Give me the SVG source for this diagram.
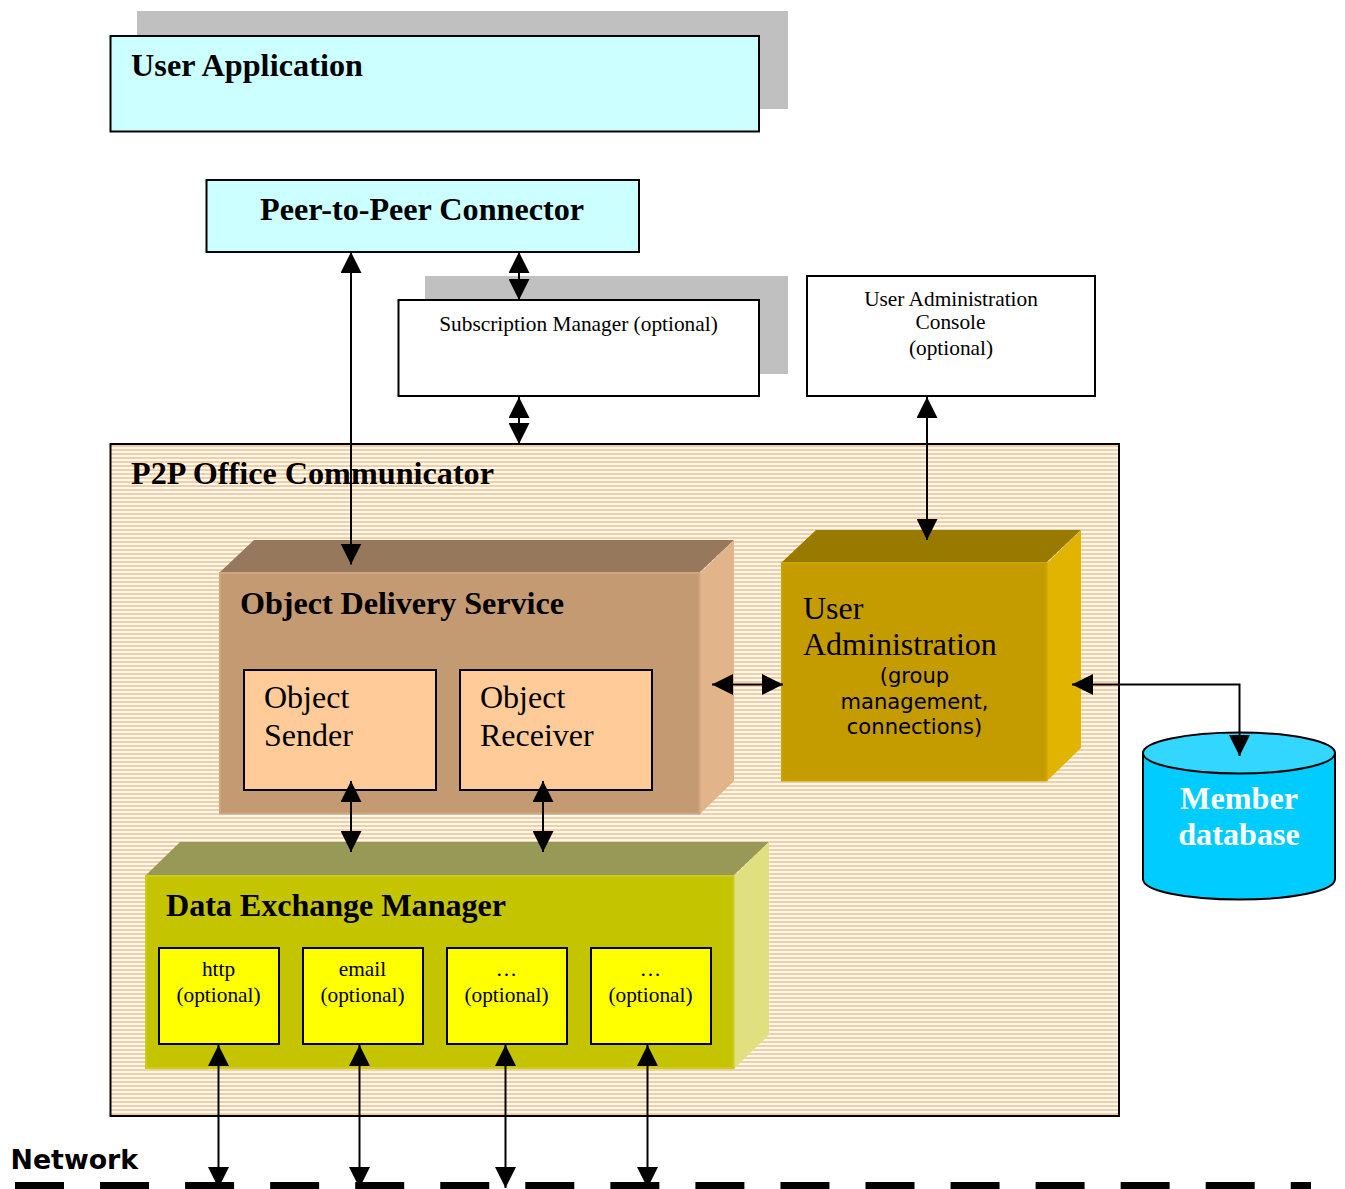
<svg xmlns="http://www.w3.org/2000/svg" width="1345" height="1189" viewBox="0 0 1345 1189">
<style>
.s{font-family:"Liberation Serif","Times New Roman",serif;fill:#000}
.b{font-weight:bold;font-size:32.200px}
.r32{font-size:32px}
.r21{font-size:21.350px}
.d{font-family:"DejaVu Sans",sans-serif;font-size:21.100px;fill:#000}
.box{stroke:#000;stroke-width:2}
.c{stroke:#000;stroke-width:2;fill:none;marker-start:url(#a);marker-end:url(#a)}
.m{text-anchor:middle}
</style>
<defs>
<marker id="a" markerUnits="userSpaceOnUse" markerWidth="21" markerHeight="21" refX="21" refY="10.500" orient="auto-start-reverse" viewBox="0 0 21 21"><path d="M0 0L21 10.500L0 21Z" fill="#000"/></marker>
<pattern id="st" patternUnits="userSpaceOnUse" width="8" height="4" x="0" y="445"><rect width="8" height="4" fill="#fff"/><rect width="8" height="2" fill="#ffcc99"/></pattern>
</defs>
<g id="user-application"><rect x="137" y="11" width="651" height="98" fill="#c0c0c0"/><rect class="box" x="110.500" y="36" width="648.500" height="95.500" fill="#ccffff"/><text class="s b" x="131" y="76" textLength="232">User Application</text></g>
<g id="p2p-connector"><rect class="box" x="206.500" y="180" width="432.500" height="72" fill="#ccffff"/><text class="s b" x="260" y="220" textLength="324">Peer-to-Peer Connector</text></g>
<g id="subscription-manager"><rect x="425" y="276" width="363" height="98" fill="#c0c0c0"/><rect class="box" x="398.500" y="300" width="360.500" height="96" fill="#fff"/><text class="s r21 m" x="578.500" y="331">Subscription Manager (optional)</text></g>
<g id="admin-console"><rect class="box" x="807" y="276" width="288" height="120" fill="#fff"/><text class="s r21 m" x="951" y="306">User Administration</text><text class="s r21 m" x="950.500" y="329">Console</text><text class="s r21 m" x="951" y="355">(optional)</text></g>
<g id="p2p-office"><rect class="box" x="110.500" y="444" width="1008.500" height="672" fill="url(#st)"/><text class="s b" x="131" y="484" textLength="363">P2P Office Communicator</text></g>
<g id="object-delivery"><path d="M220 572L254 540H734L700 572Z" fill="#96795c"/><path d="M700 573L734 540V781L700 814Z" fill="#e1b489"/><rect x="220" y="573" width="479.500" height="240.500" fill="#c49a73" stroke="#cfa67f" stroke-width="2"/><text class="s b" x="240" y="614" textLength="324">Object Delivery Service</text></g>
<g id="object-sender"><rect class="box" x="244" y="670" width="192" height="120" fill="#ffcc99"/><text class="s r32" x="264" y="708">Object</text><text class="s r32" x="264" y="746">Sender</text></g>
<g id="object-receiver"><rect class="box" x="460" y="670" width="192" height="120" fill="#ffcc99"/><text class="s r32" x="480" y="708">Object</text><text class="s r32" x="480" y="746">Receiver</text></g>
<g id="user-administration"><path d="M782 562L816 530H1081L1047 562Z" fill="#997a00"/><path d="M1047 563L1081 530V748L1047 781Z" fill="#e0b400"/><rect x="782" y="563" width="264.500" height="217.500" fill="#c49c00" stroke="#cca300" stroke-width="2"/><text class="s r32" x="803" y="619">User</text><text class="s r32" x="803" y="655">Administration</text><text class="d m" x="914.500" y="683">(group</text><text class="d m" x="914.500" y="709">management,</text><text class="d m" x="914.500" y="734">connections)</text></g>
<g id="member-database"><path d="M1143 753V879C1143 891 1186 899.500 1239 899.500S1335 891 1335 879V753Z" fill="#00ccff" stroke="#000" stroke-width="2"/><ellipse cx="1239" cy="753" rx="96" ry="20.500" fill="#33d6ff" stroke="#000" stroke-width="2"/><text class="s b m" x="1239" y="809" style="fill:#fff">Member</text><text class="s b m" x="1239" y="845" style="fill:#fff">database</text></g>
<g id="data-exchange"><path d="M146 875L180 842H769L734 875Z" fill="#999957"/><path d="M734 876L769 842V1035L734 1069Z" fill="#e0e080"/><rect x="146" y="876" width="587.500" height="192" fill="#c4c400" stroke="#cccc20" stroke-width="2"/><text class="s b" x="166" y="916" textLength="340">Data Exchange Manager</text></g>
<g id="http"><rect class="box" x="159" y="948" width="120" height="96" fill="#ff0"/><text class="s r21 m" x="218.500" y="976">http</text><text class="s r21 m" x="218.500" y="1002">(optional)</text></g>
<g id="email"><rect class="box" x="303" y="948" width="120" height="96" fill="#ff0"/><text class="s r21 m" x="362.500" y="976">email</text><text class="s r21 m" x="362.500" y="1002">(optional)</text></g>
<g id="other1"><rect class="box" x="447" y="948" width="120" height="96" fill="#ff0"/><text class="s r21 m" x="506.500" y="976">…</text><text class="s r21 m" x="506.500" y="1002">(optional)</text></g>
<g id="other2"><rect class="box" x="591" y="948" width="120" height="96" fill="#ff0"/><text class="s r21 m" x="650.500" y="976">…</text><text class="s r21 m" x="650.500" y="1002">(optional)</text></g>
<g id="network"><text x="10.500" y="1169" font-family="DejaVu Sans,sans-serif" font-weight="bold" font-size="26.800">Network</text><line x1="15" y1="1185.500" x2="1311" y2="1185.500" stroke="#000" stroke-width="7" stroke-dasharray="49 36.050"/></g>
<g id="connectors">
<line class="c" x1="351" y1="252" x2="351" y2="564.500"/>
<line class="c" x1="519" y1="252" x2="519" y2="300"/>
<line class="c" x1="519" y1="397" x2="519" y2="444"/>
<line class="c" x1="927" y1="397" x2="927" y2="540"/>
<line class="c" x1="712" y1="684.500" x2="783" y2="684.500"/>
<path class="c" d="M1072 684.500H1239.500V756"/>
<line class="c" x1="351" y1="781" x2="351" y2="852"/>
<line class="c" x1="543" y1="781" x2="543" y2="852"/>
<line class="c" x1="218.500" y1="1045" x2="218.500" y2="1188"/>
<line class="c" x1="359.500" y1="1045" x2="359.500" y2="1188"/>
<line class="c" x1="505.500" y1="1045" x2="505.500" y2="1188"/>
<line class="c" x1="647.500" y1="1045" x2="647.500" y2="1188"/>
</g>
</svg>
